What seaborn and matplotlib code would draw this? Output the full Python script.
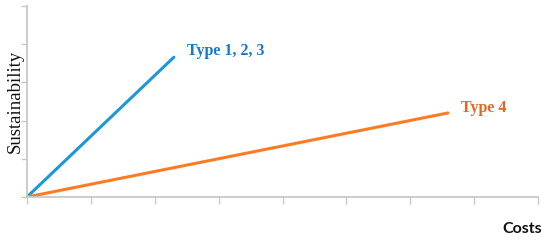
import numpy as np
import pandas as pd
import seaborn as sns
import matplotlib.pyplot as plt

# chart values (axis units: one tick step = 1)
costs_type123 = [0, 2.3]
sust_type123 = [0, 3.66]
costs_type4 = [0, 6.59]
sust_type4 = [0, 2.2]
series_labels = ['Type 1, 2, 3', 'Type 4']
line_colors = ['#1c96dc', '#ff7b22']
text_colors = ['#1578c6', '#e8661a']

df = pd.DataFrame({
    'Costs': costs_type123 + costs_type4,
    'Sustainability': sust_type123 + sust_type4,
    'Type': [series_labels[0]] * 2 + [series_labels[1]] * 2,
})

sns.set_style('white')

W, H = 550, 242
fig = plt.figure(figsize=(W / 100, H / 100), dpi=100)
ax = fig.add_axes([27 / W, (H - 197) / H, (538 - 27) / W, (197 - 6) / H])

sns.lineplot(data=df, x='Costs', y='Sustainability', hue='Type',
             palette=dict(zip(series_labels, line_colors)),
             linewidth=2.2, legend=False, ax=ax)

ax.set_xlim(0, 8)
ax.set_ylim(0, 5)
ax.set_xticks(np.arange(0, 9))
ax.set_yticks(np.arange(0, 6))
ax.set_xticklabels([])
ax.set_yticklabels([])
ax.tick_params(axis='x', direction='out', length=5, width=1, color='#c8c8c8', bottom=True)
ax.tick_params(axis='y', direction='out', length=4, width=1, color='#c8c8c8', left=True)
for side in ['top', 'right']:
    ax.spines[side].set_visible(False)
for side in ['left', 'bottom']:
    ax.spines[side].set_color('#c8c8c8')
    ax.spines[side].set_linewidth(1.3)
ax.set_xlabel('')
ax.set_ylabel('')

# series labels next to the line ends
ax.text(costs_type123[1] + 0.2, sust_type123[1] + 0.15, series_labels[0],
        color=text_colors[0], fontsize=11.5, fontweight='bold',
        family='Liberation Serif', va='center', ha='left')
ax.text(costs_type4[1] + 0.2, sust_type4[1] + 0.12, series_labels[1],
        color=text_colors[1], fontsize=11.5, fontweight='bold',
        family='Liberation Serif', va='center', ha='left')

fig.text(542 / W, 1 - 229 / H, 'Costs', fontsize=11.5, fontweight='bold',
         family='Lato', ha='right', va='center', color='#111111')
fig.text(15 / W, 1 - 101 / H, 'Sustainability', fontsize=13.5, rotation=90,
         family='Liberation Serif', ha='center', va='center', color='#111111')

fig.savefig('out.png', dpi=100)
